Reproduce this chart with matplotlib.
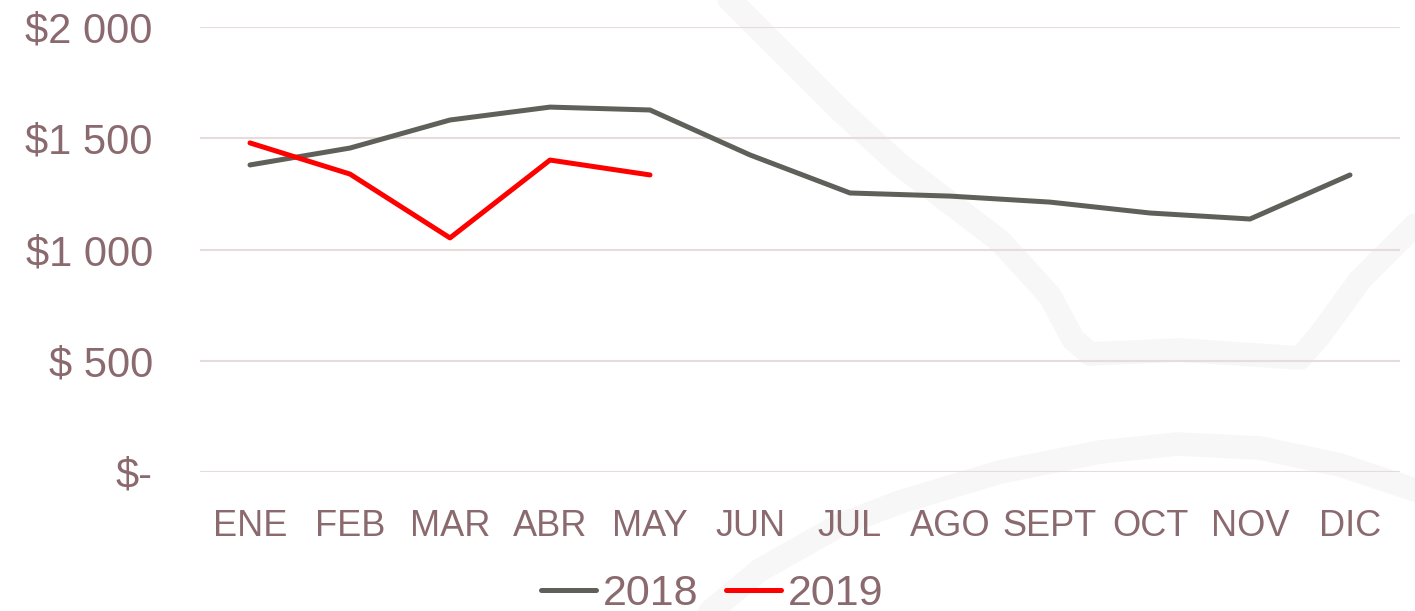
import matplotlib.pyplot as plt
from matplotlib.lines import Line2D
import numpy as np

# month labels and monthly amounts
months = ["ENE", "FEB", "MAR", "ABR", "MAY", "JUN", "JUL", "AGO", "SEPT", "OCT", "NOV", "DIC"]
sales_2018 = [1380, 1456, 1582, 1640, 1627, 1425, 1254, 1240, 1213, 1164, 1137, 1335]
sales_2019 = [1479, 1339, 1052, 1402, 1335]
y_ticks = [0, 500, 1000, 1500, 2000]
y_labels = ["$-", "$ 500", "$1 000", "$1 500", "$2 000"]

text_color = "#8a6a6e"
grid_color = "#e6dcdc"

plt.rcParams['font.family'] = ['Liberation Sans', 'DejaVu Sans']

W, H = 1415, 611
fig = plt.figure(figsize=(W / 100, H / 100), dpi=100)
fig.patch.set_facecolor("white")

# faint watermark strokes in the background (pixel coords -> figure fraction)
def stroke(xs, ys, lw=17):
    xs = np.array(xs) / W
    ys = 1 - np.array(ys) / H
    fig.add_artist(Line2D(xs, ys, color="#f7f7f7", lw=lw, solid_capstyle="round",
                          solid_joinstyle="round", zorder=0))

# lower arc
stroke([700, 760, 840, 900, 1000, 1100, 1177, 1260, 1340, 1415],
       [620, 570, 525, 502, 472, 452, 444, 448, 465, 490])
# upper crown-like shape
stroke([725, 780, 840, 900, 1000, 1050, 1073, 1090, 1180, 1300, 1320, 1360, 1415],
       [-5, 50, 110, 165, 241, 296, 339, 354, 350, 358, 335, 280, 225])

ax = fig.add_axes([200 / W, (H - 472) / H, 1200 / W, 445 / H])
ax.set_facecolor("none")

x = np.arange(len(months))
ax.plot(x, sales_2018, color="#5f605a", lw=3.6, solid_capstyle="round", label="2018", zorder=3)
ax.plot(x[:len(sales_2019)], sales_2019, color="#ff0000", lw=3.6, solid_capstyle="round",
        label="2019", zorder=4)

ax.set_xlim(-0.5, 11.5)
ax.set_ylim(0, 2000)
ax.set_yticks(y_ticks)
ax.set_yticklabels(y_labels)
ax.set_xticks(x)
ax.set_xticklabels(months)
ax.grid(axis="y", color=grid_color, lw=1.5)
ax.set_axisbelow(True)
for s in ax.spines.values():
    s.set_visible(False)
ax.tick_params(length=0, colors=text_color)
ax.tick_params(axis="y", labelsize=30, pad=34)
ax.tick_params(axis="x", labelsize=26, pad=27)
for lab in ax.get_yticklabels():
    lab.set_color(text_color)
for lab in ax.get_xticklabels():
    lab.set_color(text_color)

leg = fig.legend(loc="center", bbox_to_anchor=(712 / W, 1 - 594 / H), ncol=2, frameon=False,
                 fontsize=31, handlelength=1.28, handletextpad=0.15, columnspacing=0.65,
                 labelcolor=text_color, borderpad=0)

fig.savefig("out.png", dpi=100)
